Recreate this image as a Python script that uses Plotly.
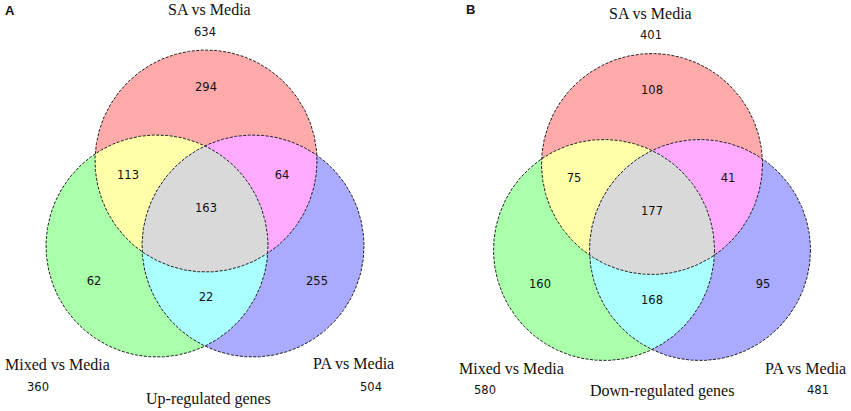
import numpy as np
import plotly.graph_objects as go

# data
set_names = ["SA vs Media", "Mixed vs Media", "PA vs Media"]
region_keys = ["SA", "Mixed", "PA", "SA&Mixed", "SA&PA", "Mixed&PA", "SA&Mixed&PA"]
up_totals = [634, 360, 504]
up_counts = [294, 62, 255, 113, 64, 22, 163]
down_totals = [401, 580, 481]
down_counts = [108, 160, 95, 75, 41, 168, 177]
panel_titles = ["Up-regulated genes", "Down-regulated genes"]
panel_letters = ["A", "B"]

region_colors = {
    "SA": "#FFAAAA", "Mixed": "#AAFFAA", "PA": "#AAAAFF",
    "SA&Mixed": "#FFFFAA", "SA&PA": "#FFAAFF", "Mixed&PA": "#AAFFFF",
    "SA&Mixed&PA": "#D9D9D9",
}

# layout of each panel (pixel units)
panels = [
    dict(centers=[(206, 161), (157, 246), (253, 246)], r=111,
         letter=(10, 10), top=(209, 9), top_n=(205, 32),
         left=(57, 364), left_n=(38, 387), right=(353, 363), right_n=(371, 387),
         bottom=(208, 399)),
    dict(centers=[(652, 164), (604, 250), (700, 250)], r=110.5,
         letter=(470, 9), top=(650, 13), top_n=(651, 35),
         left=(511, 368), left_n=(485, 390), right=(805, 368), right_n=(818, 390),
         bottom=(662, 391)),
]
label_offsets = {"SA": (0, -73), "SA&Mixed": (-78, 15), "SA&PA": (76, 15),
                 "SA&Mixed&PA": (0, 48), "Mixed": (-112, 121),
                 "Mixed&PA": (0, 137), "PA": (111, 121)}

NUM_FONT = dict(family="DejaVu Sans", size=11.5, color="#111")
SERIF = dict(family="Liberation Serif", size=16, color="#111")


def disc_intersection(centers, r, n=720):
    t = np.linspace(0, 2 * np.pi, n, endpoint=False)
    pts = []
    for cx, cy in centers:
        px, py = cx + r * np.cos(t), cy + r * np.sin(t)
        ok = np.ones(n, bool)
        for ox, oy in centers:
            ok &= (px - ox) ** 2 + (py - oy) ** 2 <= r * r + 1e-6
        pts.append(np.c_[px[ok], py[ok]])
    pts = np.vstack(pts)
    c = pts.mean(axis=0)
    order = np.argsort(np.arctan2(pts[:, 1] - c[1], pts[:, 0] - c[0]))
    pts = pts[order]
    return np.r_[pts[:, 0], pts[0, 0]], np.r_[pts[:, 1], pts[0, 1]]


fig = go.Figure()
idx = {"SA": 0, "Mixed": 1, "PA": 2}

for p, totals, counts, title, letter in zip(panels, [up_totals, down_totals],
                                            [up_counts, down_counts], panel_titles, panel_letters):
    cs, r = p["centers"], p["r"]
    # fills: single circles, then pairwise lenses, then centre
    for key in region_keys:
        members = [cs[idx[k]] for k in key.split("&")]
        x, y = disc_intersection(members, r)
        fig.add_trace(go.Scatter(x=x, y=y, mode="lines", fill="toself",
                                 fillcolor=region_colors[key], line=dict(width=0),
                                 hoverinfo="skip", showlegend=False))
    # dashed outlines
    t = np.linspace(0, 2 * np.pi, 721)
    for cx, cy in cs:
        fig.add_trace(go.Scatter(x=cx + r * np.cos(t), y=cy + r * np.sin(t), mode="lines",
                                 line=dict(color="#222", width=1, dash="3px,1.5px"),
                                 hoverinfo="skip", showlegend=False))
    # region counts
    tx, ty = cs[0]
    fig.add_trace(go.Scatter(
        x=[tx + label_offsets[k][0] for k in region_keys],
        y=[ty + label_offsets[k][1] for k in region_keys],
        text=[str(v) for v in counts], mode="text", textfont=NUM_FONT,
        hoverinfo="skip", showlegend=False))
    # set names, totals and titles
    for name, pos, npos, tot in zip(set_names, [p["top"], p["left"], p["right"]],
                                    [p["top_n"], p["left_n"], p["right_n"]], totals):
        fig.add_annotation(x=pos[0], y=pos[1], text=name, showarrow=False, font=SERIF)
        fig.add_annotation(x=npos[0], y=npos[1], text=str(tot), showarrow=False, font=NUM_FONT)
    fig.add_annotation(x=p["bottom"][0], y=p["bottom"][1], text=title, showarrow=False, font=SERIF)
    fig.add_annotation(x=p["letter"][0], y=p["letter"][1], text="<b>%s</b>" % letter,
                       showarrow=False, xanchor="center",
                       font=dict(family="Liberation Sans", size=13, color="#111"))

fig.update_layout(
    width=851, height=411, margin=dict(l=0, r=0, t=0, b=0),
    paper_bgcolor="white", plot_bgcolor="white",
    xaxis=dict(range=[0, 851], visible=False, fixedrange=True),
    yaxis=dict(range=[411, 0], visible=False, fixedrange=True),
)
fig.write_html("out.html", config={"displayModeBar": False},
               post_script="document.body.style.margin='0';")
